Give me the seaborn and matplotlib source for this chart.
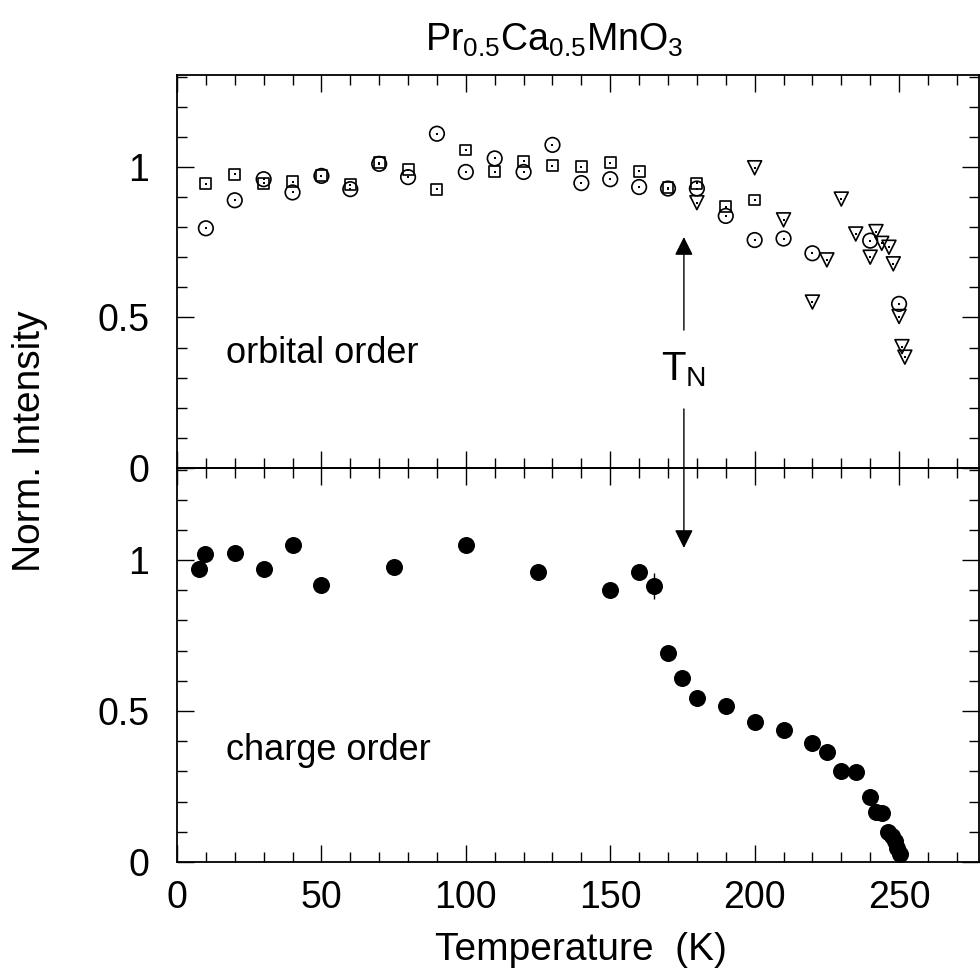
import numpy as np
import pandas as pd
import matplotlib
matplotlib.use("Agg")
import matplotlib.pyplot as plt
from matplotlib.ticker import MultipleLocator
import seaborn as sns

# orbital order, three data sets (open symbols)
T_circ = [10, 20, 30, 40, 50, 60, 70, 80, 90, 100, 110, 120, 130, 140,
          150, 160, 170, 180, 190, 200, 210, 220, 240, 250]
I_circ = [0.796, 0.889, 0.959, 0.915, 0.970, 0.926, 1.010, 0.966, 1.110, 0.983,
          1.028, 0.983, 1.073, 0.946, 0.959, 0.933, 0.928, 0.928, 0.837, 0.757,
          0.762, 0.713, 0.755, 0.545]

T_sq = [10, 20, 30, 40, 50, 60, 70, 80, 90, 100, 110, 120, 130, 140,
        150, 160, 170, 180, 190, 200]
I_sq = [0.944, 0.976, 0.946, 0.951, 0.970, 0.940, 1.014, 0.990, 0.926, 1.056,
        0.984, 1.018, 1.003, 1.001, 1.014, 0.986, 0.930, 0.946, 0.868, 0.890]

T_tri = [180, 200, 210, 220, 225, 230, 235, 240, 242, 244, 246.5, 248, 250, 251, 252]
I_tri = [0.881, 0.997, 0.824, 0.551, 0.691, 0.893, 0.777, 0.700, 0.785, 0.746,
         0.733, 0.678, 0.503, 0.403, 0.368]

# charge order (filled circles)
T_ch = [7.7, 9.8, 20, 30, 40, 50, 75, 100, 125, 150, 160, 165, 170, 175, 180,
        190, 200, 210, 220, 225, 230, 235, 240, 242, 244, 246.3, 247.5, 248.6,
        249.4, 250.3]
I_ch = [0.972, 1.020, 1.022, 0.971, 1.049, 0.916, 0.978, 1.049, 0.962, 0.900,
        0.960, 0.914, 0.691, 0.609, 0.542, 0.517, 0.463, 0.438, 0.395, 0.363,
        0.301, 0.297, 0.216, 0.167, 0.163, 0.099, 0.086, 0.071, 0.045, 0.026]
E_ch = [0.008, 0.008, 0.008, 0.008, 0.01, 0.008, 0.008, 0.01, 0.015, 0.008,
        0.012, 0.043, 0.008, 0.008, 0.008, 0.008, 0.008, 0.008, 0.008, 0.008,
        0.008, 0.008, 0.008, 0.008, 0.008, 0.008, 0.008, 0.008, 0.008, 0.008]

T_N = 175.5

sns.set_theme(style="ticks")
plt.rcParams['font.family'] = ['Liberation Sans', 'DejaVu Sans']
plt.rcParams['mathtext.default'] = 'regular'
plt.rcParams['text.color'] = 'black'
plt.rcParams['axes.labelcolor'] = 'black'
plt.rcParams['xtick.color'] = 'black'
plt.rcParams['ytick.color'] = 'black'

fig = plt.figure(figsize=(9.8, 9.76), dpi=100)
ax_top = fig.add_axes([177 / 980, 1 - 468 / 976, 801.5 / 980, 393 / 976])
ax_bot = fig.add_axes([177 / 980, 1 - 862 / 976, 801.5 / 980, 394 / 976])

orb = pd.concat([
    pd.DataFrame({'T': T_sq, 'I': I_sq, 'set': 'sq'}),
    pd.DataFrame({'T': T_circ, 'I': I_circ, 'set': 'circ'}),
    pd.DataFrame({'T': T_tri, 'I': I_tri, 'set': 'tri'}),
], ignore_index=True)

# open symbols
for name, mk, size in [('sq', 's', 62), ('circ', 'o', 110), ('tri', 'v', 100)]:
    sub = orb[orb['set'] == name]
    sns.scatterplot(data=sub, x='T', y='I', marker=mk, s=size, ax=ax_top,
                    facecolors='none', edgecolor='black', linewidth=1.2, zorder=3)
# tiny error bars in the symbol centres
sns.scatterplot(data=orb, x='T', y='I', marker='s', s=2.5, color='black',
                linewidth=0, ax=ax_top, zorder=4)

ch = pd.DataFrame({'T': T_ch, 'I': I_ch, 'err': E_ch})
ax_bot.errorbar(ch['T'], ch['I'], yerr=ch['err'], fmt='none', ecolor='black',
                elinewidth=1.0, capsize=0, zorder=2)
sns.scatterplot(data=ch, x='T', y='I', marker='o', s=150, color='black',
                linewidth=0, ax=ax_bot, zorder=3)

for ax in (ax_top, ax_bot):
    ax.set_xlim(0, 277.5)
    ax.set_ylim(0, 1.305)
    ax.set_xlabel('')
    ax.set_ylabel('')
    ax.xaxis.set_major_locator(MultipleLocator(50))
    ax.xaxis.set_minor_locator(MultipleLocator(10))
    ax.yaxis.set_major_locator(MultipleLocator(0.5))
    ax.yaxis.set_minor_locator(MultipleLocator(0.1))
    ax.tick_params(which='both', direction='in', top=True, right=True,
                   width=1.0, color='black')
    ax.tick_params(which='major', length=12, labelsize=27, labelcolor='black')
    ax.tick_params(which='minor', length=7)
    ax.tick_params(axis='y', pad=20)
    ax.tick_params(axis='x', pad=13)
    ax.set_yticks([0, 0.5, 1])
    ax.set_yticklabels(['0', '0.5', '1'])
    for sp in ax.spines.values():
        sp.set_linewidth(1.3)
        sp.set_color('black')
    ax.set_facecolor('none')

ax_top.tick_params(axis='x', labelbottom=False)
ax_bot.set_xticks([0, 50, 100, 150, 200, 250])

ax_top.text(17, 0.38, 'orbital order', fontsize=26, va='center', ha='left')
ax_bot.text(17, 0.37, 'charge order', fontsize=26, va='center', ha='left')

# T_N marker: arrows up into the top panel and down into the bottom panel
ax_top.text(T_N, 0.325, r'$T_N$', fontsize=29, ha='center', va='center')
ax_top.annotate('', xy=(T_N, 0.767), xytext=(T_N, 0.458),
                arrowprops=dict(arrowstyle='-|>', color='black', lw=1.0,
                                mutation_scale=28, shrinkA=0, shrinkB=0))
ax_top.annotate('', xy=(T_N, 1.04), xycoords=ax_bot.transData,
                xytext=(T_N, 0.196), textcoords=ax_top.transData,
                arrowprops=dict(arrowstyle='-|>', color='black', lw=1.0,
                                mutation_scale=28, shrinkA=0, shrinkB=0),
                annotation_clip=False)

fig.text(554 / 980, 1 - 40 / 976, r'Pr$_{0.5}$Ca$_{0.5}$MnO$_3$', fontsize=27,
         ha='center', va='center')
fig.text(30 / 980, 1 - 441 / 976, 'Norm. Intensity', fontsize=28,
         rotation=90, ha='center', va='center')
fig.text(581 / 980, 1 - 950 / 976, 'Temperature  (K)', fontsize=28,
         ha='center', va='center')

fig.savefig('out.png', dpi=100, facecolor='white')
